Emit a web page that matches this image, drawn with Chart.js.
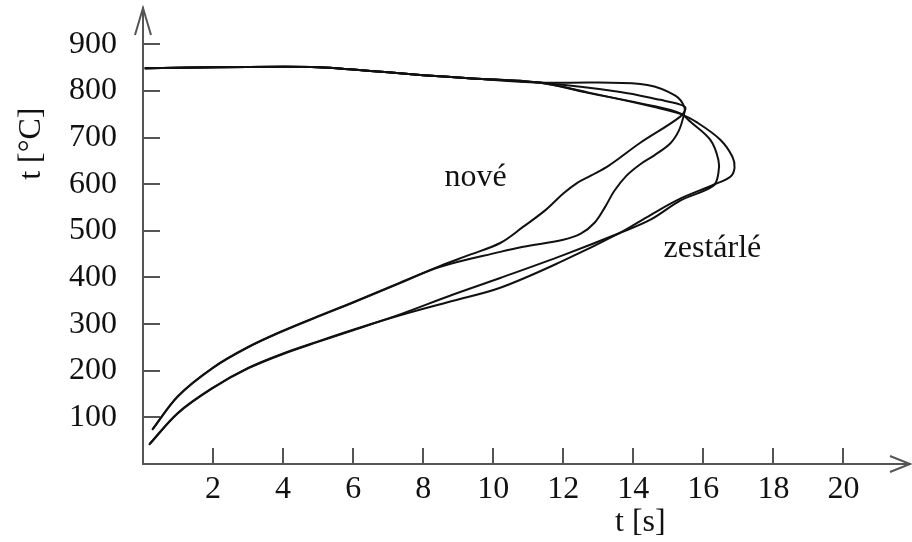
<!DOCTYPE html>
<html>
<head>
<meta charset="utf-8">
<script src="https://cdn.jsdelivr.net/npm/chart.js@4.4.1/dist/chart.umd.min.js"></script>
<style>
  html, body { margin: 0; padding: 0; background: #ffffff; }
  #wrap { width: 912px; height: 542px; }
</style>
</head>
<body>
<div id="wrap"><canvas id="c" width="912" height="542"></canvas></div>
<script>
// ---- data (time [s], temperature [°C]) ----
const xTickValues = [2, 4, 6, 8, 10, 12, 14, 16, 18, 20];
const yTickValues = [100, 200, 300, 400, 500, 600, 700, 800, 900];

// shared top branch (all four curves)
const top_t = [0.05, 2, 4, 5, 6, 7, 8, 9.4, 11.3];
const top_T = [849, 851, 852, 851, 846, 840, 834, 827, 818];

// "nové" curve A (outer turn, steep S-shaped return)
const noveA_t = [0.26, 1, 2, 3, 4, 5, 6, 7.34, 8.49, 10.2, 10.86, 12.0, 12.5, 12.9, 13.2, 13.45, 13.8, 14.2, 14.6, 15.06, 15.3, 15.43, 15.46, 15.2, 14.4, 13.0];
const noveA_T = [73, 145, 206, 250, 285, 316, 346, 388, 423, 455, 466, 481, 494, 518, 552, 585, 618, 643, 662, 688, 715, 745, 765, 790, 813, 818];

// "nové" curve B
const noveB_t = [0.28, 1, 2, 3, 4, 5, 6, 7.34, 8.49, 9.3, 10.2, 10.86, 11.5, 12.0, 12.4, 12.8, 13.3, 14.2, 15.34, 15.49, 15.29, 14.77, 13.63];
const noveB_T = [75, 146, 207, 251, 286, 317, 347, 389, 425, 448, 474, 509, 545, 580, 603, 619, 640, 689, 745, 764, 772, 781, 798];

// "zestárlé" curve C (inner turn)
const zestC_t = [0.17, 1, 2, 3, 4, 5, 6, 7.34, 8.8, 10.2, 12.0, 13.63, 14.49, 15.34, 16.29, 16.43, 16.43, 16.2, 15.63, 15.34, 14.57, 12.7];
const zestC_T = [41, 109, 163, 205, 236, 262, 287, 321, 362, 399, 448, 496, 524, 565, 597, 624, 652, 695, 734, 752, 768, 796];

// "zestárlé" curve D (outer turn)
const zestD_t = [0.19, 1, 2, 3, 4, 5, 6, 7.34, 8.8, 10.2, 12.0, 13.63, 14.49, 15.34, 16.29, 16.77, 16.89, 16.83, 16.49, 15.83, 15.34, 14.57, 12.7];
const zestD_T = [43, 110, 164, 206, 237, 263, 288, 319, 349, 378, 436, 496, 534, 569, 599, 616, 635, 659, 695, 732, 751, 766, 797];

const labelNove = { text: 'nové', t: 9.5, T: 614 };
const labelZest = { text: 'zestárlé', t: 16.26, T: 463 };
const xTitle = { text: 't [s]', t: 14.2 };
const yTitle = { text: 't [°C]', T: 687 };

const xMax = 21.9, yMax = 978;

// ---- build datasets ----
function curve(ts, Ts) {
  const pts = [];
  for (let i = 0; i < ts.length; i++) pts.push({ x: ts[i], y: Ts[i] });
  for (let i = top_t.length - 1; i >= 0; i--) pts.push({ x: top_t[i], y: top_T[i] });
  return pts;
}
function ds(ts, Ts) {
  return {
    data: curve(ts, Ts),
    showLine: true,
    borderColor: '#111111',
    borderWidth: 2,
    pointRadius: 0,
    tension: 0.35,
    fill: false
  };
}

const FONT = '"Liberation Serif", "DejaVu Serif", serif';

const decor = {
  id: 'decor',
  afterDraw(chart) {
    const ctx = chart.ctx;
    const xs = chart.scales.x, ys = chart.scales.y;
    const a = chart.chartArea;
    ctx.save();
    ctx.strokeStyle = '#555555';
    ctx.lineWidth = 2;
    ctx.lineCap = 'butt';
    // inward ticks
    xTickValues.forEach(v => {
      const px = Math.round(xs.getPixelForValue(v));
      ctx.beginPath(); ctx.moveTo(px, a.bottom); ctx.lineTo(px, a.bottom - 16); ctx.stroke();
    });
    yTickValues.forEach(v => {
      const py = Math.round(ys.getPixelForValue(v));
      ctx.beginPath(); ctx.moveTo(a.left, py); ctx.lineTo(a.left + 17, py); ctx.stroke();
    });
    // arrows
    ctx.beginPath();
    ctx.moveTo(a.left - 8, a.top + 27); ctx.lineTo(a.left, a.top); ctx.lineTo(a.left + 8, a.top + 27);
    ctx.stroke();
    ctx.beginPath();
    ctx.moveTo(a.right - 20, a.bottom - 8); ctx.lineTo(a.right, a.bottom); ctx.lineTo(a.right - 20, a.bottom + 8);
    ctx.stroke();
    // texts
    ctx.fillStyle = '#111111';
    ctx.font = '32px ' + FONT;
    ctx.textAlign = 'center';
    ctx.textBaseline = 'middle';
    ctx.fillText(labelNove.text, xs.getPixelForValue(labelNove.t), ys.getPixelForValue(labelNove.T));
    ctx.fillText(labelZest.text, xs.getPixelForValue(labelZest.t), ys.getPixelForValue(labelZest.T));
    ctx.fillText(xTitle.text, xs.getPixelForValue(xTitle.t), 523);
    ctx.translate(32, ys.getPixelForValue(yTitle.T));
    ctx.rotate(-Math.PI / 2);
    ctx.fillText(yTitle.text, 0, 0);
    ctx.restore();
  }
};

new Chart(document.getElementById('c'), {
  type: 'scatter',
  data: {
    datasets: [ds(noveA_t, noveA_T), ds(noveB_t, noveB_T), ds(zestC_t, zestC_T), ds(zestD_t, zestD_T)]
  },
  options: {
    responsive: false,
    animation: false,
    devicePixelRatio: 1,
    layout: { padding: { left: 0, right: 2, top: 8, bottom: 0 } },
    plugins: { legend: { display: false }, tooltip: { enabled: false } },
    elements: { line: { capBezierPoints: false } },
    scales: {
      x: {
        type: 'linear', min: 0, max: xMax,
        grid: { display: false, drawTicks: false },
        border: { display: true, color: '#555555', width: 2 },
        ticks: {
          stepSize: 2, includeBounds: false, padding: 6,
          color: '#111111', font: { family: FONT, size: 32 },
          callback: v => (xTickValues.includes(v) ? String(v) : '')
        },
        afterFit: s => { s.height = 78; s.paddingLeft = 0; s.paddingRight = 0; }
      },
      y: {
        type: 'linear', min: 0, max: yMax,
        grid: { display: false, drawTicks: false },
        border: { display: true, color: '#555555', width: 2 },
        ticks: {
          stepSize: 100, includeBounds: false, padding: 26,
          color: '#111111', font: { family: FONT, size: 32 },
          callback: v => (yTickValues.includes(v) ? String(v) : '')
        },
        afterFit: s => { s.width = 143; s.paddingTop = 0; s.paddingBottom = 0; }
      }
    }
  },
  plugins: [decor]
});
</script>
</body>
</html>
